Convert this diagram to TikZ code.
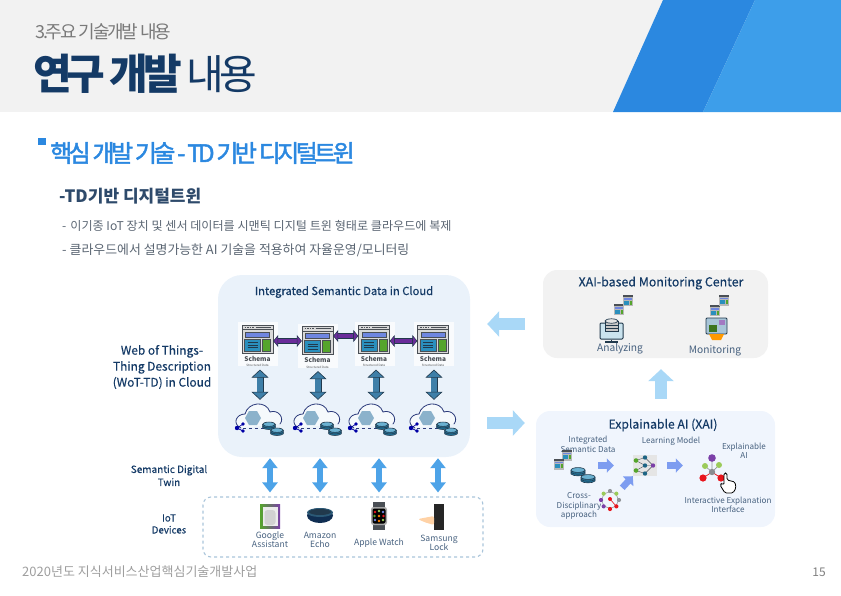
\documentclass[tikz,border=0pt]{standalone}
\usepackage{fontspec}
\setmainfont{Noto Sans CJK KR}
\newfontfamily\tightfont[LetterSpace=-12]{Noto Sans CJK KR}
\newfontfamily\headfont[LetterSpace=-15,FakeBold=2]{Noto Sans CJK KR}
\newfontfamily\labelfont[FakeBold=0.35]{Noto Sans CJK KR}
\usetikzlibrary{arrows.meta, positioning}

\definecolor{bandgray}{HTML}{F2F2F2}
\definecolor{bandblue}{HTML}{2B88E0}
\definecolor{banddeep}{HTML}{3D9EEA}
\definecolor{navytext}{HTML}{143A66}
\definecolor{slatetext}{HTML}{2E4A6B}
\definecolor{greytext}{HTML}{5A6572}
\definecolor{softtext}{HTML}{47617F}
\definecolor{cloudfill}{HTML}{EAF2FA}
\definecolor{xaifill}{HTML}{F0F5FD}
\definecolor{dashline}{HTML}{A9C4DA}
\definecolor{linkblue}{HTML}{3E7FA8}
\definecolor{linkdark}{HTML}{21394C}
\definecolor{linkpurple}{HTML}{6A2C9A}
\definecolor{twinblue}{HTML}{4DA3E8}
\definecolor{flowblue}{HTML}{A9D8F7}
\definecolor{stepblue}{HTML}{7D9CF0}
\definecolor{schemaline}{HTML}{4A4F55}
\definecolor{bannerblue}{HTML}{6F86E0}
\definecolor{panelblue}{HTML}{2A8FBD}
\definecolor{panelgreen}{HTML}{55A52C}
\definecolor{dotgreen}{HTML}{9BCB5A}
\definecolor{dotpurple}{HTML}{7B3FA8}
\definecolor{dotred}{HTML}{E8141C}
\definecolor{cloudline}{HTML}{2B3A7A}

\begin{document}
\begin{tikzpicture}[
    x=1pt, y=-1pt,
    zone/.style={rectangle, inner sep=0pt, minimum width=#1},
    sidetext/.style={align=center, text=navytext, inner sep=0pt,
        font=\fontsize{11.9}{16}\selectfont\labelfont},
    zonetitle/.style={text=navytext, inner sep=0pt,
        font=\fontsize{#1}{14}\selectfont\labelfont},
    devicetext/.style={align=center, text=softtext, inner sep=0pt,
        font=\fontsize{8.6}{9}\selectfont},
    xaitext/.style={align=center, text=softtext, inner sep=0pt,
        font=\fontsize{8.1}{9.4}\selectfont},
    iconspot/.style={rectangle, inner sep=0pt, minimum width=#1},
    schemaword/.style={align=center, inner sep=0pt, minimum height=16pt, text=schemaline,
        font=\fontsize{6.5}{6.5}\selectfont\bfseries},
    pairlink/.style={{Triangle[length=5pt,width=12pt,fill=linkpurple,color=linkdark,line width=0.5pt]}-{Triangle[length=5pt,width=12pt,fill=linkpurple,color=linkdark,line width=0.5pt]},
        draw=linkpurple, line width=4.5pt,
        preaction={draw=linkdark, line width=5.3pt, -, shorten >=4pt, shorten <=4pt}},
    schemalink/.style={{Triangle[length=8pt,width=17pt,fill=linkblue,color=linkdark,line width=0.6pt]}-{Triangle[length=8pt,width=17pt,fill=linkblue,color=linkdark,line width=0.6pt]},
        draw=linkblue, line width=6pt,
        preaction={draw=linkdark, line width=7pt, -, shorten >=6pt, shorten <=6pt}},
    twinlink/.style={{Triangle[length=10pt,width=15pt]}-{Triangle[length=10pt,width=15pt]},
        draw=twinblue, line width=5.5pt},
    bigflow/.style={-{Triangle[length=12pt,width=25pt]}, draw=flowblue, line width=12pt},
    stepflow/.style={-{Triangle[length=7pt,width=14pt]}, draw=stepblue, line width=6.5pt},
    % window icon, origin in the middle of the window
    schemaicon/.pic={
        \fill[white, opacity=0.75] (-19.5,-17) rectangle (20.5,27);
        \draw[schemaline, fill=white!85!black, line width=0.9pt] (-15.5,-14) rectangle (15.5,14);
        \draw[schemaline, line width=0.9pt] (-15.5,-9.5) -- (15.5,-9.5);
        \draw[schemaline, line width=1pt, dash pattern=on 1.5pt off 1pt] (-13,-11.8) -- (-4,-11.8);
        \draw[schemaline, line width=0.6pt] (-2,-11.8) -- (13,-11.8);
        \draw[schemaline, fill=bannerblue, line width=0.5pt] (-12,-7) rectangle (12,-2);
        \draw[schemaline, fill=panelblue, line width=0.5pt] (-13,0) rectangle (3,12);
        \draw[schemaline, fill=panelgreen, line width=0.5pt] (5,0) rectangle (13,12);
        \draw[linkdark, line width=0.7pt] (-10,3.5) -- (0,3.5) (-10,6) -- (0,6) (-10,8.5) -- (0,8.5);
    },
    schemamini/.pic={
        \fill[white!72!black] (-5,-5.5) rectangle (5,5.5);
        \fill[schemaline] (-5,-5.5) rectangle (5,-3.5);
        \fill[bannerblue] (-4,-2.5) rectangle (4,-0.8);
        \fill[panelblue] (-4,0) rectangle (1,4);
        \fill[panelgreen] (2,0) rectangle (4,4);
    },
    diskicon/.pic={
        \draw[linkdark, fill=panelblue!80!black, line width=0.6pt] (-7,-2) -- (-7,2) .. controls (-5,4.5) and (5,4.5) .. (7,2) -- (7,-2);
        \draw[linkdark, fill=panelblue!70, line width=0.6pt] (0,-2) ellipse [x radius=7, y radius=2.4];
        \draw[linkdark, line width=0.5pt] (-7,0.4) .. controls (-5,2.8) and (5,2.8) .. (7,0.4);
    },
    cloudicon/.pic={
        \draw[cloudline, line width=0.8pt, fill=white, fill opacity=0.55, line cap=round]
            (-19,8) .. controls (-28,4) and (-24,-6) .. (-15,-6)
            .. controls (-12,-18) and (6,-20) .. (10,-8)
            .. controls (18,-11) and (25,-2) .. (20,4);
        \draw[cloudline, line width=0.7pt, dashed] (-17,8) -- (10,8);
        \fill[linkblue!60] (-15,-2) -- (-11,-9) -- (-3,-9) -- (1,-2) -- (-3,5) -- (-11,5) -- cycle;
        \draw[blue!60!black, line width=0.7pt] (-23,8) -- (-17,4) (-23,8) -- (-17,11);
        \fill[blue!65!black] (-23,8) circle (2.2) (-17,4) circle (1.9) (-17,11) circle (1.9);
        \pic[scale=0.9] at (9,6) {diskicon};
        \pic[scale=0.9] at (17,12) {diskicon};
    },
    netmodel/.pic={
        \fill[white!90!black] (-12,-10.5) rectangle (12,10.5);
        \draw[schemaline, line width=0.4pt]
            (-9,-5) -- (0,-8) (-9,-5) -- (0,0) (-9,5) -- (0,0) (-9,5) -- (0,8)
            (0,-8) -- (8,0) (0,0) -- (8,0) (0,8) -- (8,0);
        \fill[panelgreen] (-9,-5) circle (2.3) (-9,5) circle (2.3);
        \fill[panelblue!70!black] (0,-8) circle (2.2) (0,0) circle (2.2) (0,8) circle (2.2);
        \fill[dotpurple] (8,0) circle (2.2);
    },
    ringmodel/.pic={
        \draw[schemaline!60, line width=0.5pt] (0,0) circle (8);
        \foreach \ang/\col in {0/schemaline!60,45/dotred,90/dotred,135/dotpurple,180/dotpurple,225/dotgreen,270/schemaline!60,315/dotgreen}
            \fill[\col] (\ang:9) circle (2.1);
        \draw[dotred, line width=0.6pt] (0,-1) -- (6,6);
        \fill[dotred] (0,-1) circle (2);
    },
    handicon/.pic={
        \draw[black, fill=white, rounded corners=1.5pt, line width=0.8pt]
            (-4,-10) -- (-1,-10) -- (-1,-3) -- (7,-1) -- (8,5) -- (5,10) -- (-3,10)
            -- (-8,2) -- (-6,0) -- (-4,2) -- cycle;
    },
]
\useasboundingbox (0,0) rectangle (841,595);

% Header band
\fill[bandgray] (0,0) rectangle (841,112);
\fill[bandblue] (663,0) -- (613,112) -- (703,112) -- (755,0) -- cycle;
\fill[banddeep] (755,0) -- (703,112) -- (841,112) -- (841,0) -- cycle;

\node[anchor=west, inner sep=0pt, text=black!52, font=\fontsize{18}{20}\selectfont\tightfont] (chapter) at (35,32) {3.주요 기술개발 내용};
\node[anchor=west, inner sep=0pt, text=navytext, font=\fontsize{42}{44}\selectfont\tightfont\bfseries] (titlebold) at (33,74) {연구 개발};
\node[right=4pt of titlebold, inner sep=0pt, text=navytext, font=\fontsize{41}{44}\selectfont\tightfont] (titlelight) {내용};

% Section headings
\fill[bandblue] (38,138) rectangle (46,145);
\node[anchor=west, inner sep=0pt, text=bandblue, font=\fontsize{24}{26}\selectfont\headfont] (section) at (50,153) {핵심 개발 기술 - TD 기반 디지털트윈};
\node[anchor=west, inner sep=0pt, text=slatetext, font=\fontsize{17}{19}\selectfont\bfseries] (subsection) at (59,196) {-TD기반 디지털트윈};
\node[anchor=west, inner sep=0pt, text=greytext, font=\fontsize{12.1}{14}\selectfont] (lineone) at (62,226) {-\hspace{4pt}이기종 IoT 장치 및 센서 데이터를 시맨틱 디지털 트윈 형태로 클라우드에 복제};
\node[anchor=west, inner sep=0pt, text=greytext, font=\fontsize{12.9}{14}\selectfont] (linetwo) at (62,250) {-\hspace{3pt}클라우드에서 설명가능한 AI 기술을 적용하여 자율운영/모니터링};

% Zones
\node[zone=252pt, minimum height=182pt, fill=cloudfill, rounded corners=24pt] (cloudzone) at (344,366) {};
\node[zone=225pt, minimum height=88pt, fill=bandgray, rounded corners=14pt] (monitorzone) at (655.5,314) {};
\node[zone=239pt, minimum height=116pt, fill=xaifill, rounded corners=14pt] (xaizone) at (655.5,469) {};
\node[zone=280pt, minimum height=60pt, draw=dashline, line width=1.1pt, dashed, rounded corners=8pt] (devicezone) at (343,527) {};

\node[zonetitle=11.2] (cloudtitle) at (344,292) {Integrated Semantic Data in Cloud};
\node[zonetitle=12.4] (monitortitle) at (661,283) {XAI-based Monitoring Center};
\node[zonetitle=12.2] (xaititle) at (663,425) {Explainable AI (XAI)};

% Side labels
\node[sidetext] (wotlabel) at (162,367) {Web of Things-\\Thing Description\\(WoT-TD) in Cloud};
\node[sidetext, font=\fontsize{10}{13}\selectfont\labelfont] (twinlabel) at (169,475.5) {Semantic Digital\\Twin};
\node[sidetext, font=\fontsize{9.7}{12}\selectfont\labelfont] (iotlabel) at (169,524) {IoT\\Devices};

% Schema windows with their captions
\pic at (257.5,339) {schemaicon};
\pic at (317.5,340.5) {schemaicon};
\pic at (374,339) {schemaicon};
\pic at (433,339) {schemaicon};
\node[iconspot=31pt, minimum height=28pt] (schema1) at (257.5,339) {};
\node[iconspot=31pt, minimum height=28pt] (schema2) at (317.5,340.5) {};
\node[iconspot=31pt, minimum height=28pt] (schema3) at (374,339) {};
\node[iconspot=31pt, minimum height=28pt] (schema4) at (433,339) {};
\node[schemaword, below=0pt of schema1] (word1) {Schema\\[-1pt]{\fontsize{3}{3}\selectfont\mdseries Structured Data}};
\node[schemaword, below=0pt of schema2] (word2) {Schema\\[-1pt]{\fontsize{3}{3}\selectfont\mdseries Structured Data}};
\node[schemaword, below=0pt of schema3] (word3) {Schema\\[-1pt]{\fontsize{3}{3}\selectfont\mdseries Structured Data}};
\node[schemaword, below=0pt of schema4] (word4) {Schema\\[-1pt]{\fontsize{3}{3}\selectfont\mdseries Structured Data}};

% Clouds
\node[iconspot=48pt, minimum height=40pt] (cloud1) at (260,420) {};
\node[iconspot=48pt, minimum height=40pt] (cloud2) at (318,420) {};
\node[iconspot=48pt, minimum height=40pt] (cloud3) at (376,420) {};
\node[iconspot=48pt, minimum height=40pt] (cloud4) at (434,420) {};
\pic at (cloud1) {cloudicon};
\pic at (cloud2) {cloudicon};
\pic at (373,420) {cloudicon};
\pic at (cloud4) {cloudicon};

% Links in the cloud zone
\draw[pairlink] (schema1.east |- 0,341) -- (schema2.west |- 0,341);
\draw[pairlink] (schema2.east |- 0,336) -- (schema3.west |- 0,336);
\draw[pairlink] (schema3.east |- 0,341) -- (schema4.west |- 0,341);
\draw[schemalink] (cloud1.north |- word1.south) -- (cloud1.north);
\draw[schemalink] (cloud2.north |- word2.south) -- (cloud2.north);
\draw[schemalink] (cloud3.north |- word3.south) -- (cloud3.north);
\draw[schemalink] (cloud4.north |- word4.south) -- (cloud4.north);

% Devices
\node[devicetext] (googletext) at (270,539.5) {Google\\Assistant};
\node[devicetext] (echotext) at (320,539.5) {Amazon\\Echo};
\node[devicetext] (watchtext) at (379,543) {Apple Watch};
\node[devicetext] (locktext) at (439,542.5) {Samsung\\Lock};

\shade[left color=panelgreen, right color=dotpurple] (260,504) rectangle (280,528);
\fill[white!92!black] (262.5,506.5) rectangle (277.5,525.5);
\fill[white!82!black, rounded corners=3pt] (264.5,510) rectangle (275.5,525);
\node[iconspot=26pt, minimum height=15pt] (echo) at (320,515.5) {};
\fill[navytext!80!black] (echo) ellipse [x radius=13, y radius=7.5];
\fill[linkblue!70!black] (320,512.5) ellipse [x radius=13, y radius=4.5];
\fill[linkdark] (320,512) ellipse [x radius=11, y radius=3];
\node[iconspot=16pt, minimum height=28pt] (watch) at (379,516) {};
\fill[schemaline] (373,502) rectangle (385,530);
\fill[white!65!black, rounded corners=2.5pt] (371,507) rectangle (387,525);
\fill[black, rounded corners=2pt] (372.5,508.5) rectangle (385.5,523.5);
\foreach \px/\py/\col in {375/512/dotred,379/511/dotgreen,383/512/bannerblue,374.5/516/panelgreen,379/516/orange,383.5/516/dotred,375/520/bannerblue,379/521/orange,383/520/dotgreen}
    \fill[\col] (\px,\py) circle (1.3);
\node[iconspot=10pt, minimum height=26pt, fill=black!85] (lock) at (439,517) {};
\fill[orange!35!white, rounded corners=2pt] (418,519) -- (434,516) -- (434,525) -- (424,522) -- cycle;

% Twin links
\draw[twinlink, shorten <=1pt, shorten >=4pt] (googletext.north |- cloudzone.south) -- (googletext.north |- devicezone.north);
\draw[twinlink, shorten <=1pt, shorten >=4pt] (echotext.north |- cloudzone.south) -- (echotext.north |- devicezone.north);
\draw[twinlink, shorten <=1pt, shorten >=4pt] (watchtext.north |- cloudzone.south) -- (watchtext.north |- devicezone.north);
\draw[twinlink, shorten <=1pt, shorten >=4pt] ([xshift=-1pt]locktext.north |- cloudzone.south) -- ([xshift=-1pt]locktext.north |- devicezone.north);

% Monitoring center
\pic at (618.5,309.5) {schemamini};
\pic at (628,300.5) {schemamini};
\pic at (714.5,310.5) {schemamini};
\pic at (724,300) {schemamini};
\node[iconspot=23pt, minimum height=16pt, draw=linkdark, line width=1pt, fill=panelblue!25, rounded corners=1pt] (analyzeicon) at (611.5,331) {};
\draw[linkdark, line width=1.2pt] (analyzeicon.south) -- ++(0,3) (605,342) -- (618,342);
\draw[linkdark, line width=0.7pt, fill=white!78!black] (605,321) rectangle (618,331);
\draw[linkdark, line width=0.7pt, fill=white!90!black] (611.5,321) ellipse [x radius=6.5, y radius=2.2];
\draw[linkdark, line width=0.6pt] (605,325) -- (618,325) (605,328) -- (618,328);
\node[iconspot=21pt, minimum height=16pt, draw=linkdark, line width=0.8pt, fill=linkblue!45, rounded corners=1pt] (monitoricon) at (716.5,326) {};
\fill[orange!80!yellow] (709,334) -- (724,334) -- (721,340) -- (712,340) -- cycle;
\fill[dotpurple!70] (719,320) rectangle (725,325);
\fill[panelgreen!70!black] (708.5,325) rectangle (717,332);
\node[devicetext, font=\fontsize{10.2}{11}\selectfont] (analyzetext) at (620,349) {Analyzing};
\node[devicetext, font=\fontsize{10.2}{11}\selectfont] (monitortext) at (715,351) {Monitoring};

% Flows between the zones
\coordinate (backrow) at (505,324);
\coordinate (forthrow) at (505,423);
\draw[bigflow, shorten <=18pt, shorten >=17pt] (backrow -| monitorzone.west) -- (backrow -| cloudzone.east);
\draw[bigflow, shorten <=17pt, shorten >=11pt] (forthrow -| cloudzone.east) -- (forthrow -| xaizone.west);
\draw[bigflow, shorten <=12pt, shorten >=11pt] (monitortitle |- xaizone.north) -- (monitortitle |- monitorzone.south);

% Explainable AI steps
\node[xaitext] (datatext) at (588,444.5) {Integrated\\Semantic Data};
\node[xaitext] (modeltext) at (671,441) {Learning Model};
\node[xaitext] (explaintext) at (744,450.5) {Explainable\\AI};
\node[xaitext] (crosstext) at (579,506) {Cross-\\Disciplinary\\approach};
\node[xaitext] (interfacetext) at (728,505) {Interactive Explanation\\Interface};

\pic at (567,455) {schemamini};
\pic at (558.5,464) {schemamini};
\node[iconspot=25pt, minimum height=20pt] (dataicon) at (582.5,475) {};
\pic at (578,472) {diskicon};
\pic at (588,479) {diskicon};
\node[iconspot=24pt, minimum height=21pt] (neticon) at (645,465.5) {};
\pic at (neticon) {netmodel};
\node[iconspot=24pt, minimum height=24pt] (ringicon) at (610,500) {};
\pic at (ringicon) {ringmodel};
\node[iconspot=20pt, minimum height=24pt] (graphicon) at (712,470) {};
\draw[schemaline!60, line width=0.7pt] (712,472) -- (712,458) (712,472) -- (705,466) (712,472) -- (719,465);
\draw[dotred, line width=0.7pt] (712,472) -- (703,478) (712,472) -- (721,478);
\fill[schemaline!65] (712,472) circle (3.2);
\fill[dotpurple] (712,458) circle (3.8);
\fill[dotgreen] (705,466) circle (3) (719,465) circle (3);
\fill[dotred] (703,478) circle (3.6) (721,478) circle (3.6);
\pic at (728,483) {handicon};

\draw[stepflow, shorten <=3pt, shorten >=19pt] (neticon.west -| dataicon.east) -- (neticon.west);
\draw[stepflow, shorten <=10pt, shorten >=19pt] (neticon.east) -- (neticon.east -| graphicon.west);
\draw[stepflow] (ringicon.north east) -- (neticon.south west);

% Footer
\node[anchor=west, inner sep=0pt, text=black!38, font=\fontsize{13}{15}\selectfont] (footer) at (22,572) {2020년도 지식서비스산업핵심기술개발사업};
\node[anchor=east, inner sep=0pt, text=black!50, font=\fontsize{12}{14}\selectfont] (pagenum) at (826,572) {15};

\end{tikzpicture}
\end{document}
